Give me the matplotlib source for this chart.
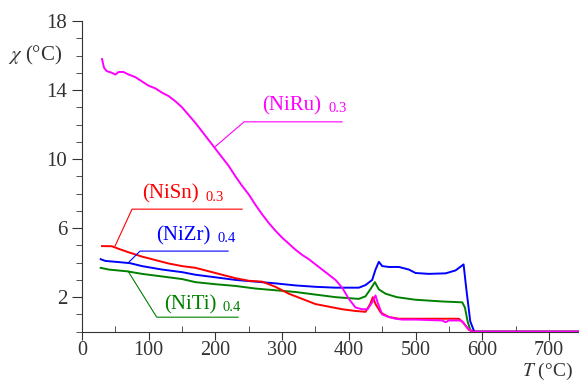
import numpy as np
import matplotlib
matplotlib.use("Agg")
import matplotlib.pyplot as plt
from matplotlib.ticker import MultipleLocator, FixedLocator

plt.rcParams['font.family'] = ['Liberation Serif', 'DejaVu Serif']
plt.rcParams['mathtext.fontset'] = 'stix'

# (NiRu)0.3
T_ru = [30, 33, 37, 45, 50, 55, 62, 70, 80, 90, 100, 110, 120, 130, 140, 150, 160, 170, 180, 190,
        200, 210, 220, 230, 240, 250, 260, 270, 280, 290, 300, 310, 320, 330, 340, 350, 360, 370,
        380, 390, 400, 410, 420, 428, 435, 440, 443, 450, 460, 470, 480, 500, 540, 545, 550, 565,
        570, 578, 585, 745]
chi_ru = [15.8, 15.3, 15.1, 15.0, 14.9, 15.05, 15.05, 14.9, 14.75, 14.5, 14.25, 14.1, 13.85, 13.65,
          13.35, 13.0, 12.55, 12.1, 11.6, 11.1, 10.6, 10.1, 9.6, 9.0, 8.45, 7.95, 7.35, 6.8, 6.3,
          5.85, 5.45, 5.1, 4.75, 4.45, 4.2, 3.9, 3.6, 3.3, 3.0, 2.55, 1.9, 1.4, 1.3, 1.3, 1.7, 2.1,
          1.7, 1.0, 0.85, 0.75, 0.7, 0.7, 0.65, 0.55, 0.65, 0.65, 0.6, 0.2, 0.0, 0.0]

# (NiSn)0.3
T_sn = [30, 45, 55, 70, 90, 110, 130, 150, 170, 190, 210, 230, 250, 270, 290, 310, 330, 350, 370,
        390, 410, 425, 432, 436, 440, 448, 460, 475, 500, 565, 572, 580, 586, 745]
chi_sn = [4.96, 4.95, 4.8, 4.6, 4.35, 4.15, 3.95, 3.8, 3.7, 3.5, 3.3, 3.1, 2.95, 2.9, 2.6, 2.2,
          1.9, 1.6, 1.45, 1.3, 1.2, 1.15, 1.6, 2.0, 1.6, 1.1, 0.85, 0.75, 0.75, 0.75, 0.5, 0.1, 0.0, 0.0]

# (NiZr)0.4
T_zr = [28, 35, 50, 72, 90, 120, 150, 170, 200, 230, 260, 290, 320, 350, 380, 415, 425, 435, 440,
        445, 450, 460, 475, 490, 500, 520, 545, 560, 572, 576, 582, 588, 745]
chi_zr = [4.2, 4.1, 4.05, 3.97, 3.8, 3.6, 3.45, 3.3, 3.15, 3.0, 2.9, 2.8, 2.68, 2.6, 2.55, 2.55,
          2.7, 3.0, 3.6, 4.05, 3.8, 3.75, 3.75, 3.6, 3.4, 3.35, 3.38, 3.55, 3.9, 2.5, 0.6, 0.0, 0.0]

# (NiTi)0.4
T_ti = [28, 40, 67, 90, 120, 150, 170, 200, 230, 260, 290, 320, 350, 380, 415, 425, 433, 439, 445,
        455, 472, 500, 540, 570, 574, 578, 582, 586, 745]
chi_ti = [3.7, 3.6, 3.5, 3.35, 3.2, 3.05, 2.87, 2.75, 2.65, 2.5, 2.4, 2.3, 2.15, 2.0, 1.9, 2.05,
          2.5, 2.87, 2.45, 2.2, 2.0, 1.85, 1.75, 1.7, 1.4, 0.6, 0.1, 0.0, 0.0]

# labels: name, index, colour, leader (tip, elbow, end) and text position
names = ['(NiRu)', '(NiSn)', '(NiZr)', '(NiTi)']
index = ['0.3', '0.3', '0.4', '0.4']
colors = ['#ff00ff', '#ff0000', '#0000ff', '#008000']
lead_T = [[199, 243, 390], [49.5, 75, 240], [69, 87, 219], [69, 112, 234]]
lead_chi = [[10.7, 12.16, 12.16], [4.96, 7.1, 7.1], [3.98, 4.67, 4.67], [3.51, 0.84, 0.84]]
text_T = [270, 90, 111, 123]
text_chi = [12.55, 7.4, 5.0, 1.0]

fig = plt.figure(figsize=(5.79, 3.83), dpi=100)
ax = fig.add_axes([0.1416, 0.134, 0.8584, 0.811])

ax.plot(T_ti, chi_ti, color=colors[3], lw=1.4)
ax.plot(T_zr, chi_zr, color=colors[2], lw=1.4)
ax.plot(T_sn, chi_sn, color=colors[1], lw=1.4)
ax.plot(T_ru, chi_ru, color=colors[0], lw=1.4)

fig.canvas.draw()
for i in range(4):
    ax.plot(lead_T[i], lead_chi[i], color=colors[i], lw=0.8)
    t = ax.text(text_T[i], text_chi[i], names[i], color=colors[i], fontsize=15,
                ha='left', va='bottom')
    # subscript index right after the name
    bb = t.get_window_extent(renderer=fig.canvas.get_renderer())
    x_end = ax.transData.inverted().transform((bb.x1, bb.y0))[0]
    ax.annotate(index[i], (x_end, text_chi[i]), xytext=(2.5, 0), textcoords='offset points',
                color=colors[i], fontsize=10.5, ha='left', va='bottom')

ax.set_xlim(0, 745)
ax.set_ylim(0, 18)
for s in ['top', 'right']:
    ax.spines[s].set_visible(False)
ax.spines['left'].set_color('#333333')
ax.spines['bottom'].set_color('#333333')

ax.xaxis.set_major_locator(MultipleLocator(100))
ax.xaxis.set_minor_locator(MultipleLocator(50))
ax.yaxis.set_major_locator(FixedLocator([2, 6, 10, 14, 18]))
ax.yaxis.set_minor_locator(MultipleLocator(1))
ax.tick_params(axis='x', which='major', direction='out', length=6, pad=1, labelsize=14.5,
               colors='#333333')
ax.tick_params(axis='x', which='minor', direction='in', length=4, colors='#333333')
ax.tick_params(axis='y', which='major', direction='out', length=7, labelsize=15, colors='#333333')
ax.tick_params(axis='y', which='minor', direction='out', length=4, colors='#333333')

ax.text(-0.04, 16, r'$\chi$ (°C)', transform=ax.get_yaxis_transform(), ha='right',
        va='center', fontsize=15, color='#333333')
fig.text(0.99, 0.003, r'$T$ (°C)', ha='right', va='bottom', fontsize=14, color='#333333')

fig.savefig('out.png', dpi=100)
